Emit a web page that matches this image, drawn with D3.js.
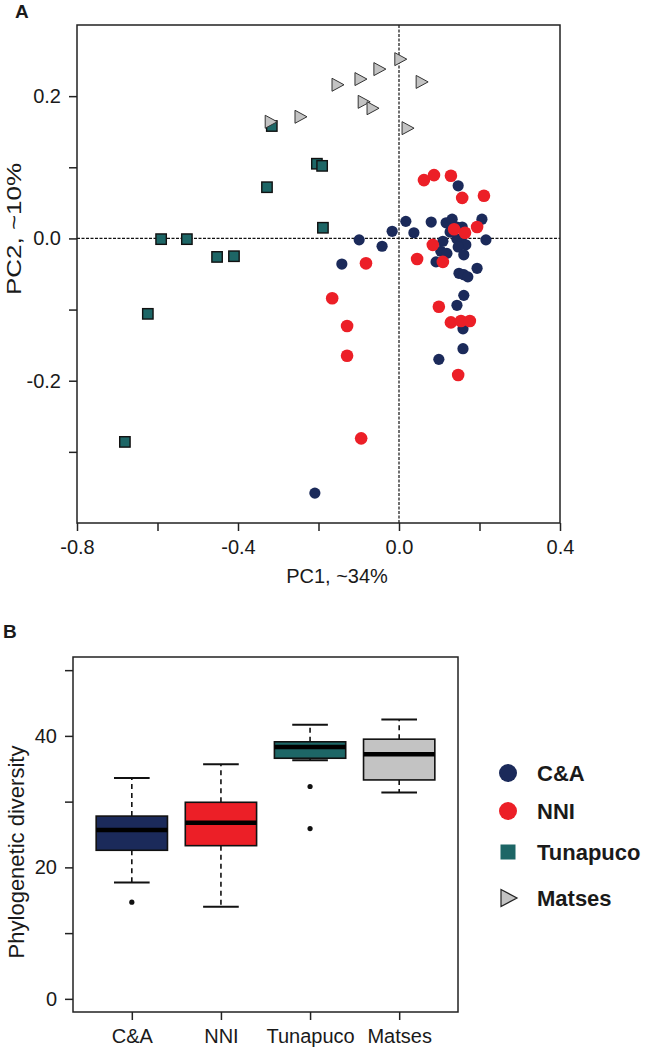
<!DOCTYPE html>
<html>
<head>
<meta charset="utf-8">
<script src="https://cdn.jsdelivr.net/npm/d3@7"></script>
<style>
body { margin: 0; background: #fff; }
svg text { font-family: Arial, "Liberation Sans", sans-serif; fill: #1a1a1a; }
</style>
</head>
<body>
<svg id="chart" width="645" height="1050"></svg>
<script>
// panel A: PCA scores per population
var caPC1 = [0.147, 0.017, 0.080, 0.117, 0.132, 0.144, 0.157, 0.206, -0.017, 0.037, 0.127, 0.109,
	0.144, 0.157, 0.166, 0.216, -0.099, -0.042, -0.142, 0.147, 0.104, 0.119, 0.161, 0.092,
	0.194, 0.149, 0.161, 0.171, 0.161, 0.144, 0.159, 0.159, 0.099, -0.209];
var caPC2 = [0.074, 0.024, 0.023, 0.022, 0.027, 0.016, 0.016, 0.027, 0.010, 0.008, 0.009, -0.004,
	-0.001, -0.006, -0.009, -0.002, -0.002, -0.011, -0.036, -0.012, -0.018, -0.021, -0.023, -0.033,
	-0.042, -0.049, -0.051, -0.054, -0.080, -0.094, -0.127, -0.155, -0.170, -0.358];

var nniPC1 = [0.062, 0.087, 0.129, 0.157, 0.211, 0.137, 0.164, 0.194, 0.084, 0.045, 0.109,
	-0.082, -0.166, -0.129, -0.129, -0.094, 0.099, 0.129, 0.154, 0.176, 0.147];
var nniPC2 = [0.082, 0.089, 0.088, 0.057, 0.060, 0.013, 0.008, 0.016, -0.009, -0.029, -0.033,
	-0.035, -0.084, -0.123, -0.165, -0.281, -0.096, -0.118, -0.116, -0.116, -0.192];

var tunaPC1 = [-0.316, -0.204, -0.191, -0.328, -0.189, -0.591, -0.527, -0.452, -0.410, -0.624, -0.681];
var tunaPC2 = [0.158, 0.105, 0.102, 0.072, 0.015, -0.001, -0.001, -0.026, -0.025, -0.106, -0.286];

var matsPC1 = [0.002, -0.050, -0.097, -0.154, 0.055, -0.089, -0.067, -0.320, -0.246, 0.020];
var matsPC2 = [0.252, 0.238, 0.224, 0.216, 0.220, 0.192, 0.183, 0.164, 0.171, 0.155];

var xTicks = [-0.8, -0.6, -0.4, -0.2, 0.0, 0.2, 0.4];
var yTicks = [-0.3, -0.2, -0.1, 0.0, 0.1, 0.2];

// panel B: phylogenetic diversity boxplots
var groups   = ["C&A", "NNI", "Tunapuco", "Matses"];
var whiskLo  = [17.7, 14.0, 36.3, 31.4];
var q1       = [22.6, 23.3, 36.6, 33.3];
var medians  = [25.7, 26.8, 38.3, 37.2];
var q3       = [27.8, 29.9, 39.1, 39.5];
var whiskHi  = [33.6, 35.7, 41.7, 42.5];
var outliers = [[14.7], [], [32.3, 25.9], []];
var pdTicks  = [0, 10, 20, 30, 40, 50];

var colors = { "C&A": "#1b2a5a", "NNI": "#ec1f27", "Tunapuco": "#1d6666", "Matses": "#c3c3c3" };

var svg = d3.select("#chart");

function pts(a, b) {
	return a.map(function(v, i) { return [v, b[i]]; });
}

// ---------- panel A ----------
var x = d3.scaleLinear().domain([-0.8, 0.4]).range([77, 560]);
var y = d3.scaleLinear().domain([-0.4, 0.3]).range([523, 25]);

svg.append("text").attr("x", 15).attr("y", 18)
	.style("font-size", "19px").style("font-weight", "bold").text("A");

var xAxis = svg.append("g").attr("transform", "translate(0,523)")
	.call(d3.axisBottom(x).tickValues(xTicks).tickSize(8).tickPadding(9)
		.tickFormat(function(d) { return Math.round(d * 10) % 4 === 0 ? d.toFixed(1) : ""; }));
var yAxis = svg.append("g").attr("transform", "translate(77,0)")
	.call(d3.axisLeft(y).tickValues(yTicks).tickSize(8).tickPadding(8)
		.tickFormat(function(d) { return Math.round(d * 10) % 2 === 0 ? d.toFixed(1) : ""; }));
[xAxis, yAxis].forEach(function(a) {
	a.select(".domain").remove();
	a.selectAll("line").attr("stroke", "#222").attr("stroke-width", 1.5);
	a.selectAll("text").style("font-size", "20px").attr("fill", "#1a1a1a");
});

svg.append("line").attr("x1", x(0)).attr("x2", x(0)).attr("y1", y(0.3)).attr("y2", y(-0.4))
	.attr("stroke", "#111").attr("stroke-width", 1.2).attr("stroke-dasharray", "3,1.5");
svg.append("line").attr("x1", x(-0.8)).attr("x2", x(0.4)).attr("y1", y(0)).attr("y2", y(0))
	.attr("stroke", "#111").attr("stroke-width", 1.2).attr("stroke-dasharray", "3,1.5");

svg.append("g").selectAll("circle").data(pts(caPC1, caPC2)).join("circle")
	.attr("cx", function(d) { return x(d[0]); }).attr("cy", function(d) { return y(d[1]); })
	.attr("r", 5.6).attr("fill", colors["C&A"]);
svg.append("g").selectAll("circle").data(pts(nniPC1, nniPC2)).join("circle")
	.attr("cx", function(d) { return x(d[0]); }).attr("cy", function(d) { return y(d[1]); })
	.attr("r", 6.3).attr("fill", colors["NNI"]);
svg.append("g").selectAll("rect").data(pts(tunaPC1, tunaPC2)).join("rect")
	.attr("x", function(d) { return x(d[0]) - 5.2; }).attr("y", function(d) { return y(d[1]) - 5.2; })
	.attr("width", 10.4).attr("height", 10.4)
	.attr("fill", colors["Tunapuco"]).attr("stroke", "#111").attr("stroke-width", 1.4);
svg.append("g").selectAll("path").data(pts(matsPC1, matsPC2)).join("path")
	.attr("transform", function(d) { return "translate(" + x(d[0]) + "," + y(d[1]) + ")"; })
	.attr("d", "M-5,-6.5L7,0L-5,6.5Z")
	.attr("fill", colors["Matses"]).attr("stroke", "#333").attr("stroke-width", 1);

svg.append("rect").attr("x", 77).attr("y", 25).attr("width", 483).attr("height", 498)
	.attr("fill", "none").attr("stroke", "#222").attr("stroke-width", 1.5);

svg.append("text").attr("x", 337).attr("y", 583).attr("text-anchor", "middle")
	.style("font-size", "20px").text("PC1, ~34%");
// the source figure is stretched vertically, so the rotated title runs longer
svg.append("text").attr("transform", "translate(21,229) rotate(-90) scale(1.3,1)").attr("text-anchor", "middle")
	.style("font-size", "20px").text("PC2, ~10%");

// ---------- panel B ----------
var bx = d3.scalePoint().domain(groups).range([73, 458]).padding(0.66);
var by = d3.scaleLinear().domain([-2, 52]).range([1012, 657]);
var unit = bx.step();

svg.append("text").attr("x", 3).attr("y", 638)
	.style("font-size", "19px").style("font-weight", "bold").text("B");

var bxAxis = svg.append("g").attr("transform", "translate(0,1012)")
	.call(d3.axisBottom(bx).tickSize(8).tickPadding(9));
var byAxis = svg.append("g").attr("transform", "translate(73,0)")
	.call(d3.axisLeft(by).tickValues(pdTicks).tickSize(8).tickPadding(8)
		.tickFormat(function(d) { return d % 20 === 0 ? d : ""; }));
[bxAxis, byAxis].forEach(function(a) {
	a.select(".domain").remove();
	a.selectAll("line").attr("stroke", "#222").attr("stroke-width", 1.5);
	a.selectAll("text").style("font-size", "20px").attr("fill", "#1a1a1a");
});

var box = svg.append("g").selectAll("g").data(groups).join("g");
box.each(function(gname, i) {
	var g = d3.select(this), cx = bx(gname);
	var bw = unit * 0.4, cw = unit * 0.2;
	g.append("line").attr("x1", cx).attr("x2", cx).attr("y1", by(q3[i])).attr("y2", by(whiskHi[i]))
		.attr("stroke", "#111").attr("stroke-width", 1.6).attr("stroke-dasharray", "5,4");
	g.append("line").attr("x1", cx).attr("x2", cx).attr("y1", by(q1[i])).attr("y2", by(whiskLo[i]))
		.attr("stroke", "#111").attr("stroke-width", 1.6).attr("stroke-dasharray", "5,4");
	[whiskHi[i], whiskLo[i]].forEach(function(v) {
		g.append("line").attr("x1", cx - cw).attr("x2", cx + cw).attr("y1", by(v)).attr("y2", by(v))
			.attr("stroke", "#111").attr("stroke-width", 2);
	});
	g.append("rect").attr("x", cx - bw).attr("width", 2 * bw)
		.attr("y", by(q3[i])).attr("height", by(q1[i]) - by(q3[i]))
		.attr("fill", colors[gname]).attr("stroke", "#111").attr("stroke-width", 1.6);
	g.append("line").attr("x1", cx - bw).attr("x2", cx + bw).attr("y1", by(medians[i])).attr("y2", by(medians[i]))
		.attr("stroke", "#000").attr("stroke-width", 4.5);
	g.selectAll("circle").data(outliers[i]).join("circle")
		.attr("cx", cx).attr("cy", function(d) { return by(d); }).attr("r", 2.6).attr("fill", "#111");
});

svg.append("rect").attr("x", 73).attr("y", 657).attr("width", 385).attr("height", 355)
	.attr("fill", "none").attr("stroke", "#222").attr("stroke-width", 1.5);

svg.append("text").attr("transform", "translate(24,852) rotate(-90)").attr("text-anchor", "middle")
	.style("font-size", "22px").text("Phylogenetic diversity");

// legend
var legend = svg.append("g").attr("transform", "translate(508,0)");
var legY = [773, 811, 852, 898];
groups.forEach(function(gname, i) {
	var row = legend.append("g").attr("transform", "translate(0," + legY[i] + ")");
	if(i < 2)
		row.append("circle").attr("r", 9).attr("fill", colors[gname]);
	else if(i === 2)
		row.append("rect").attr("x", -7.5).attr("y", -7.5).attr("width", 15).attr("height", 15)
			.attr("fill", colors[gname]);
	else
		row.append("path").attr("d", "M-7,-8.5L9,0L-7,8.5Z")
			.attr("fill", colors[gname]).attr("stroke", "#222").attr("stroke-width", 1.2);
	row.append("text").attr("x", 29).attr("dy", "0.36em")
		.style("font-size", "22px").style("font-weight", "bold").text(gname);
});
</script>
</body>
</html>
